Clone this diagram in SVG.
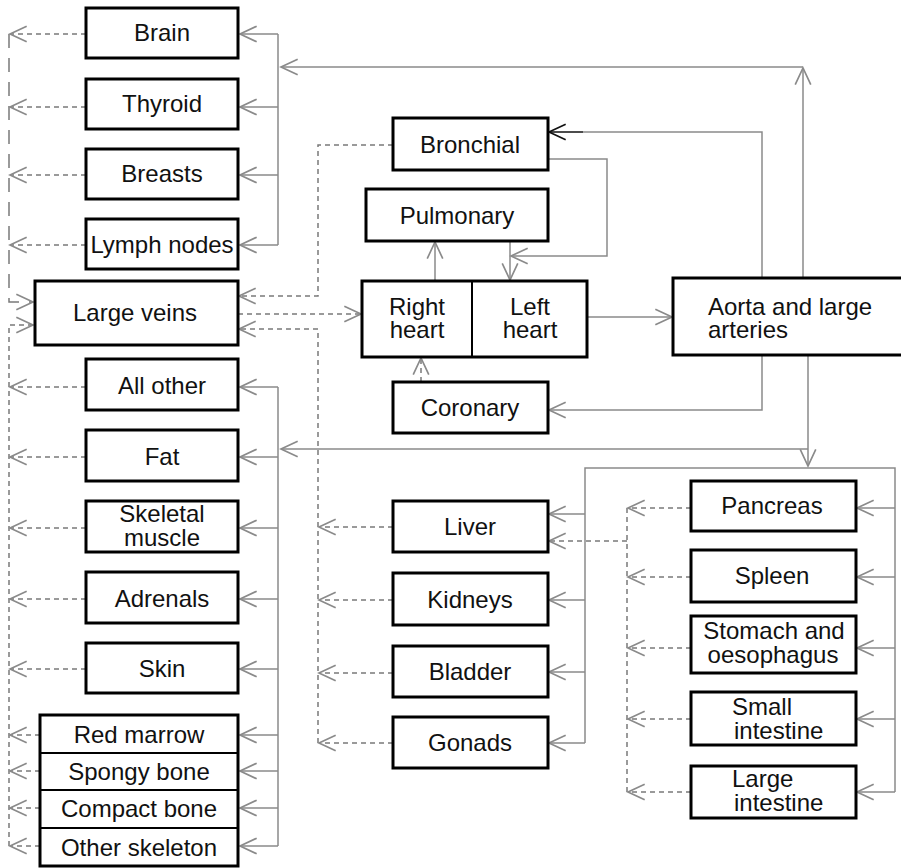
<svg xmlns="http://www.w3.org/2000/svg" width="901" height="868" viewBox="0 0 901 868">
<defs>
<marker id="ah" markerUnits="userSpaceOnUse" markerWidth="20" markerHeight="20" refX="0" refY="0" viewBox="-16 -9 18 18" orient="auto" overflow="visible">
<path d="M-15,-7 L0,0 L-15,7" fill="none" stroke="#8a8a8a" stroke-width="1.5"/>
</marker>
<marker id="ahk" markerUnits="userSpaceOnUse" markerWidth="20" markerHeight="20" refX="0" refY="0" viewBox="-16 -9 18 18" orient="auto" overflow="visible">
<path d="M-15,-7 L0,0 L-15,7" fill="none" stroke="#111" stroke-width="1.5"/>
</marker>
</defs>
<style>
.box{fill:#fff;stroke:#000;stroke-width:3}
.div{stroke:#000;stroke-width:2}
.t{font-family:"Liberation Sans",Arial,sans-serif;font-size:24px;fill:#111;text-anchor:middle}
.ts{font-family:"Liberation Sans",Arial,sans-serif;font-size:24px;fill:#111;text-anchor:start}
.c{fill:none;stroke:#8a8a8a;stroke-width:1.5}
.ca{fill:none;stroke:#8a8a8a;stroke-width:1.5;marker-end:url(#ah)}
.d{fill:none;stroke:#7a7a7a;stroke-width:1.5;stroke-dasharray:5,4}
.da{fill:none;stroke:#7a7a7a;stroke-width:1.5;stroke-dasharray:5,4;marker-end:url(#ah)}
.dl{fill:none;stroke:#7a7a7a;stroke-width:1.5;stroke-dasharray:14,10;marker-end:url(#ah)}
</style>
<rect width="901" height="868" fill="#fff"/>

<g id="connectors">
<!-- upper left arterial bus -->
<path class="c" d="M278,34 V245"/>
<path class="ca" d="M278,34 H240"/>
<path class="ca" d="M278,107 H240"/>
<path class="ca" d="M278,175 H240"/>
<path class="ca" d="M278,245 H240"/>
<path class="ca" d="M803,278 V68"/>
<path class="ca" d="M803,67 H281"/>
<!-- heart / lungs -->
<path class="ca" d="M435,281 V242"/>
<path class="ca" d="M510,241 V280"/>
<path class="ca" d="M548,159 H607 V256 H511"/>
<path class="c" d="M762,278 V132 H583"/>
<path fill="none" stroke="#111" stroke-width="1.5" marker-end="url(#ahk)" d="M583,132 H549"/>
<path class="ca" d="M587,317 H672"/>
<path class="ca" d="M762,355 V410 H549"/>
<path class="da" d="M421,382 V358"/>
<!-- aorta to lower body -->
<path class="ca" d="M808,449 H281"/>
<path class="ca" d="M808,355 V466"/>
<!-- lower left bus -->
<path class="c" d="M278,387 V846"/>
<path class="ca" d="M278,387 H240"/>
<path class="ca" d="M278,457 H240"/>
<path class="ca" d="M278,528 H240"/>
<path class="ca" d="M278,599 H240"/>
<path class="ca" d="M278,669 H240"/>
<path class="ca" d="M278,735 H240"/>
<path class="ca" d="M278,771 H240"/>
<path class="ca" d="M278,808 H240"/>
<path class="ca" d="M278,846 H240"/>
<!-- abdominal bus -->
<path class="c" d="M585,743 V468 H895 V792"/>
<path class="ca" d="M585,514 H549"/>
<path class="ca" d="M585,600 H549"/>
<path class="ca" d="M585,672 H549"/>
<path class="ca" d="M585,743 H549"/>
<path class="ca" d="M895,508 H857"/>
<path class="ca" d="M895,577 H857"/>
<path class="ca" d="M895,648 H857"/>
<path class="ca" d="M895,719 H857"/>
<path class="ca" d="M895,792 H857"/>
<!-- venous return, upper left -->
<path class="dl" d="M9,34 V302 H33"/>
<path class="da" d="M86,34 H10"/>
<path class="da" d="M86,107 H10"/>
<path class="da" d="M86,175 H10"/>
<path class="da" d="M86,245 H10"/>
<!-- venous return, lower left -->
<path class="da" d="M9,846 V325 H33"/>
<path class="da" d="M86,387 H10"/>
<path class="da" d="M86,457 H10"/>
<path class="da" d="M86,528 H10"/>
<path class="da" d="M86,599 H10"/>
<path class="da" d="M86,669 H10"/>
<path class="da" d="M40,735 H10"/>
<path class="da" d="M40,771 H10"/>
<path class="da" d="M40,808 H10"/>
<path class="da" d="M40,846 H10"/>
<!-- bronchial to large veins, large veins to right heart -->
<path class="da" d="M393,145 H318 V296 H239"/>
<path class="da" d="M238,314 H361"/>
<!-- middle venous collector -->
<path class="da" d="M318,743 V329 H239"/>
<path class="da" d="M393,527 H319"/>
<path class="da" d="M393,600 H319"/>
<path class="da" d="M393,673 H319"/>
<path class="da" d="M393,743 H319"/>
<!-- portal collector -->
<path class="d" d="M627,508 V792"/>
<path class="da" d="M691,508 H628"/>
<path class="da" d="M691,577 H628"/>
<path class="da" d="M691,648 H628"/>
<path class="da" d="M691,719 H628"/>
<path class="da" d="M691,792 H628"/>
<path class="da" d="M627,541 H549"/>
</g>

<g id="brain"><rect class="box" x="86" y="8" width="152" height="50"/><text class="t" x="162" y="41">Brain</text></g>
<g id="thyroid"><rect class="box" x="86" y="79" width="152" height="50"/><text class="t" x="162" y="112">Thyroid</text></g>
<g id="breasts"><rect class="box" x="86" y="149" width="152" height="50"/><text class="t" x="162" y="182">Breasts</text></g>
<g id="lymph-nodes"><rect class="box" x="86" y="219" width="152" height="50"/><text class="t" x="162" y="253">Lymph nodes</text></g>
<g id="large-veins"><rect class="box" x="35" y="281" width="203" height="64"/><text class="t" x="135" y="321">Large veins</text></g>
<g id="all-other"><rect class="box" x="86" y="359" width="152" height="51"/><text class="t" x="162" y="394">All other</text></g>
<g id="fat"><rect class="box" x="86" y="430" width="152" height="51"/><text class="t" x="162" y="465">Fat</text></g>
<g id="skeletal-muscle"><rect class="box" x="86" y="501" width="152" height="51"/><text class="t" x="162" y="522">Skeletal</text><text class="t" x="162" y="546">muscle</text></g>
<g id="adrenals"><rect class="box" x="86" y="572" width="152" height="51"/><text class="t" x="162" y="607">Adrenals</text></g>
<g id="skin"><rect class="box" x="86" y="643" width="152" height="50"/><text class="t" x="162" y="677">Skin</text></g>
<g id="skeleton">
<rect class="box" x="40" y="715" width="198" height="151"/>
<g id="red-marrow"><text class="t" x="139" y="743">Red marrow</text></g>
<g id="spongy-bone"><line class="div" x1="40" y1="753" x2="238" y2="753"/><text class="t" x="139" y="780">Spongy bone</text></g>
<g id="compact-bone"><line class="div" x1="40" y1="790" x2="238" y2="790"/><text class="t" x="139" y="817">Compact bone</text></g>
<g id="other-skeleton"><line class="div" x1="40" y1="828" x2="238" y2="828"/><text class="t" x="139" y="856">Other skeleton</text></g>
</g>
<g id="bronchial"><rect class="box" x="393" y="118" width="155" height="52"/><text class="t" x="470" y="153">Bronchial</text></g>
<g id="pulmonary"><rect class="box" x="366" y="189" width="182" height="52"/><text class="t" x="457" y="224">Pulmonary</text></g>
<g id="heart">
<rect class="box" x="362" y="281" width="225" height="76"/>
<line class="div" x1="472" y1="281" x2="472" y2="357"/>
<g id="right-heart"><text class="t" x="417" y="315">Right</text><text class="t" x="417" y="338">heart</text></g>
<g id="left-heart"><text class="t" x="530" y="315">Left</text><text class="t" x="530" y="338">heart</text></g>
</g>
<g id="coronary"><rect class="box" x="393" y="382" width="155" height="51"/><text class="t" x="470" y="416">Coronary</text></g>
<g id="aorta"><rect class="box" x="673" y="278" width="232" height="77"/><text class="ts" x="708" y="315">Aorta and large</text><text class="ts" x="708" y="338">arteries</text></g>
<g id="liver"><rect class="box" x="393" y="501" width="155" height="51"/><text class="t" x="470" y="535">Liver</text></g>
<g id="kidneys"><rect class="box" x="393" y="573" width="155" height="52"/><text class="t" x="470" y="608">Kidneys</text></g>
<g id="bladder"><rect class="box" x="393" y="646" width="155" height="51"/><text class="t" x="470" y="680">Bladder</text></g>
<g id="gonads"><rect class="box" x="393" y="717" width="155" height="51"/><text class="t" x="470" y="751">Gonads</text></g>
<g id="pancreas"><rect class="box" x="691" y="481" width="165" height="50"/><text class="t" x="772" y="514">Pancreas</text></g>
<g id="spleen"><rect class="box" x="691" y="550" width="165" height="52"/><text class="t" x="772" y="584">Spleen</text></g>
<g id="stomach"><rect class="box" x="691" y="616" width="165" height="57"/><text class="t" x="774" y="639">Stomach and</text><text class="t" x="773" y="663">oesophagus</text></g>
<g id="small-intestine"><rect class="box" x="691" y="692" width="165" height="53"/><text class="ts" x="732" y="715">Small</text><text class="ts" x="734" y="739">intestine</text></g>
<g id="large-intestine"><rect class="box" x="691" y="766" width="165" height="52"/><text class="ts" x="732" y="787">Large</text><text class="ts" x="734" y="811">intestine</text></g>
</svg>
